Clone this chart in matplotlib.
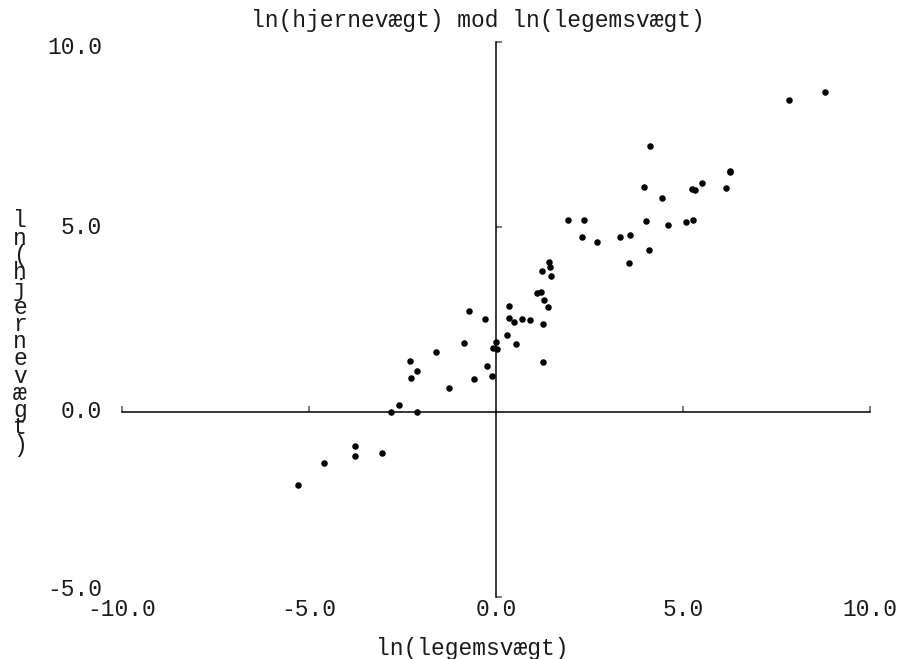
import matplotlib
matplotlib.use('Agg')
import matplotlib.pyplot as plt
import matplotlib.transforms as mtransforms

plt.rcParams['font.family'] = ['Liberation Mono', 'DejaVu Sans Mono']

# ln(body weight) and ln(brain weight) per mammal
ln_body = [1.22, -0.73, 0.30, 6.14, 3.59, 3.32, 2.70, 0.04, 1.43, -0.86,
           -2.29, -0.08, 0.00, -5.30, -2.81, 1.25, 0.69, 0.53, 7.84, -3.77,
           5.23, 6.26, -0.24, 2.30, 1.19, -1.61, 0.34, 6.27, 5.33, 4.44,
           -0.29, 4.13, 8.80, 1.25, 1.92, 3.56, 1.40, -2.12, -3.77, -4.61,
           0.34, 5.52, 0.92, 4.02, 4.61, 3.95, 2.36, -0.60, 4.09, 1.28,
           1.46, -1.27, -2.59, -2.10, -3.04, 5.26, 1.10, 5.08, -0.11, 0.48,
           -2.26, 1.44]
ln_brain = [3.80, 2.74, 2.09, 6.05, 4.78, 4.74, 4.59, 1.70, 4.06, 1.86,
            1.39, 1.74, 1.89, -1.97, 0.00, 2.38, 2.51, 1.84, 8.43, -1.20,
            6.04, 6.48, 1.25, 4.74, 3.24, 1.61, 2.86, 6.52, 6.01, 5.78,
            2.51, 7.19, 8.65, 1.36, 5.19, 4.03, 2.83, 0.00, -0.92, -1.39,
            2.53, 6.19, 2.49, 5.16, 5.06, 6.09, 5.19, 0.88, 4.39, 3.04,
            3.67, 0.64, 0.18, 1.10, -1.11, 5.19, 3.22, 5.13, 0.96, 2.43,
            0.92, 3.92]

xticks = [-10, -5, 5, 10]
yticks = [-5, 5, 10]
xlabels = [-10, -5, 0, 5, 10]
ylabels = [-5, 0, 5, 10]

fs = 16.5
txt_color = '#1a1a1a'
fig = plt.figure(figsize=(9.07, 6.59), dpi=100)
ax = fig.add_axes([122/907, 62/659, 748/907, 555/659])
ax.set_xlim(-10, 10)
ax.set_ylim(-5, 10)

for side in ['top', 'right']:
    ax.spines[side].set_visible(False)
ax.spines['left'].set_position(('data', 0))
ax.spines['bottom'].set_position(('data', 0))
for side in ['left', 'bottom']:
    ax.spines[side].set_linewidth(1.1)
ax.set_xticks(xticks)
ax.set_yticks(yticks)
ax.tick_params(direction='in', length=4.5, width=1.1, color='#555555',
               labelbottom=False, labelleft=False)

ax.scatter(ln_body, ln_brain, s=22, c='black', linewidths=0, zorder=3, clip_on=False)

# tick labels sit at the outer edges, not on the axes
tx = mtransforms.blended_transform_factory(ax.transData, fig.transFigure)
for v in xlabels:
    ax.text(v, 50/659, '%.1f' % v, transform=tx, ha='center', va='center',
            fontsize=fs, color=txt_color)
ty = mtransforms.blended_transform_factory(fig.transFigure, ax.transData)
for v in ylabels:
    dy = 0
    if v == max(ylabels):
        dy = -5
    elif v == min(ylabels):
        dy = 7
    tr = mtransforms.offset_copy(ty, fig=fig, x=0, y=dy, units='dots')
    ax.text(102/907, v, '%.1f' % v, transform=tr, ha='right', va='center',
            fontsize=fs, color=txt_color)

fig.text(478/907, 1 - 20/659, 'ln(hjernevægt) mod ln(legemsvægt)',
         ha='center', va='center', fontsize=fs, color=txt_color)
fig.text(472/907, 1 - 648/659, 'ln(legemsvægt)', ha='center', va='center',
         fontsize=fs, color=txt_color)
fig.text(20/907, 1 - 333/659, '\n'.join('ln(hjernevægt)'), ha='center', va='center',
         fontsize=fs, linespacing=0.68, color=txt_color)

plt.savefig('out.png', dpi=100)
